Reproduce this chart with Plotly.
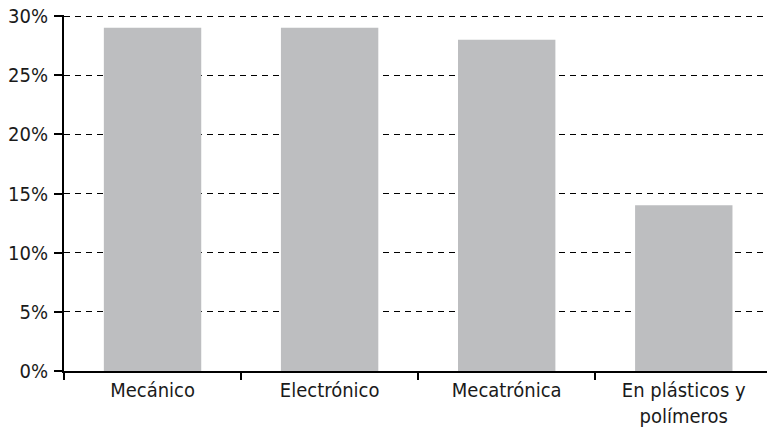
import plotly.graph_objects as go

categories = ["Mecánico", "Electrónico", "Mecatrónica", "En plásticos y<br>polímeros"]
values = [29, 29, 28, 14]
tick_vals = [0, 5, 10, 15, 20, 25, 30]
tick_text = ["0%", "5%", "10%", "15%", "20%", "25%", "30%"]

font_family = "DejaVu Sans Condensed, Liberation Sans Narrow, Liberation Sans, Arial, sans-serif"

fig = go.Figure(go.Bar(
    x=categories, y=values,
    marker=dict(color="#bdbec0", line=dict(width=0)),
    width=0.55,
    hoverinfo="skip",
))

fig.update_layout(
    width=767, height=428,
    margin=dict(l=64, r=0, t=15, b=57, autoexpand=False),
    paper_bgcolor="white", plot_bgcolor="white",
    font=dict(family=font_family, size=20, color="#1a1a1a"),
    showlegend=False,
)
fig.update_xaxes(
    range=[-0.5, 3.47],
    automargin=False,
    showline=True, linecolor="black", linewidth=2,
    ticks="outside", tickson="boundaries", ticklen=7, tickwidth=2, tickcolor="black",
    showgrid=False, zeroline=False,
    tickfont=dict(size=20),
)
fig.update_yaxes(
    range=[0, 30.085],
    automargin=False,
    tickvals=tick_vals, ticktext=tick_text,
    showline=True, linecolor="black", linewidth=2,
    ticks="outside", ticklen=8, tickwidth=2, tickcolor="black",
    ticklabelstandoff=2,
    showgrid=True, gridcolor="black", griddash="6px,5px", gridwidth=1,
    zeroline=False,
    tickfont=dict(size=20),
)

fig.write_html("out.html", config={"displayModeBar": False},
               post_script="document.body.style.margin='0';")
